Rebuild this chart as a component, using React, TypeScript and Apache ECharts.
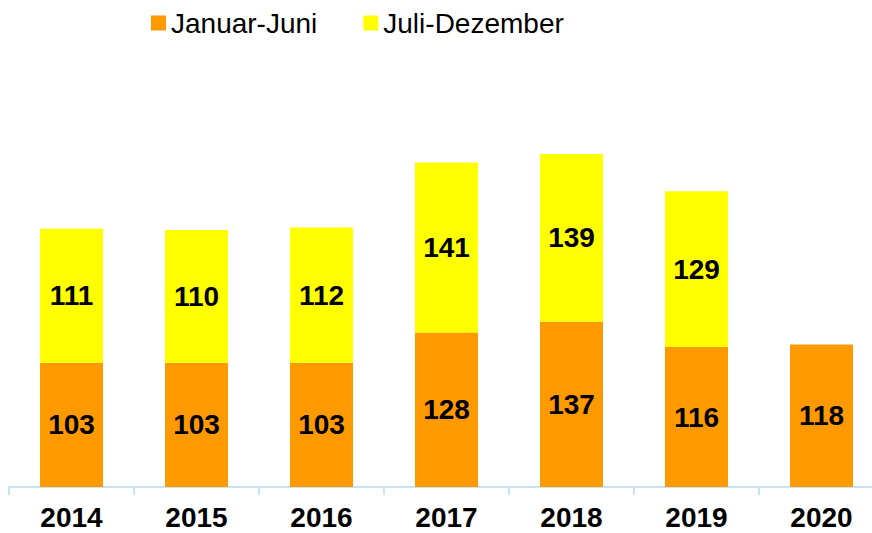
import React, { useEffect, useRef } from "react";
import * as echarts from "echarts";

const categories = ["2014", "2015", "2016", "2017", "2018", "2019", "2020"];
const firstHalf = [103, 103, 103, 128, 137, 116, 118];
const secondHalf: (number | null)[] = [111, 110, 112, 141, 139, 129, null];
const seriesNames = ["Januar-Juni", "Juli-Dezember"];

export default function App() {
  const ref = useRef<HTMLDivElement>(null);
  useEffect(() => {
    if (!ref.current) return;
    const chart = echarts.init(ref.current, null, { renderer: "svg" });
    const labelStyle = {
      show: true,
      position: "inside" as const,
      color: "#000",
      fontWeight: "bold" as const,
      fontSize: 28,
      fontFamily: "Liberation Sans, Arial, sans-serif",
    };
    chart.setOption({
      animation: false,
      backgroundColor: "#fff",
      legend: {
        left: 146,
        top: 4,
        itemWidth: 15,
        itemHeight: 15,
        itemGap: 46,
        icon: "rect",
        textStyle: {
          fontSize: 28,
          color: "#000",
          fontFamily: "Liberation Sans, Arial, sans-serif",
        },
        data: seriesNames,
      },
      grid: { left: 9, top: 125, width: 875, bottom: 46, containLabel: false },
      xAxis: {
        type: "category",
        data: categories,
        axisLine: { lineStyle: { color: "#c8e4f4", width: 2 } },
        axisTick: { show: true, length: 8, lineStyle: { color: "#c8e4f4", width: 2 } },
        axisLabel: {
          color: "#000",
          fontWeight: "bold",
          fontSize: 28,
          margin: 16,
          fontFamily: "Liberation Sans, Arial, sans-serif",
        },
      },
      yAxis: {
        type: "value",
        min: 0,
        max: 300,
        show: false,
        splitLine: { show: false },
      },
      series: [
        {
          name: seriesNames[0],
          type: "bar",
          stack: "total",
          barWidth: 63,
          data: firstHalf,
          itemStyle: { color: "#ff9900" },
          label: labelStyle,
        },
        {
          name: seriesNames[1],
          type: "bar",
          stack: "total",
          barWidth: 63,
          data: secondHalf,
          itemStyle: { color: "#ffff00" },
          label: labelStyle,
        },
      ],
    });
    return () => chart.dispose();
  }, []);
  return (
    <div style={{ width: 872, height: 533, position: "absolute", left: 0, top: 0, overflow: "hidden" }}>
      <div ref={ref} style={{ width: 890, height: 533 }} />
    </div>
  );
}
